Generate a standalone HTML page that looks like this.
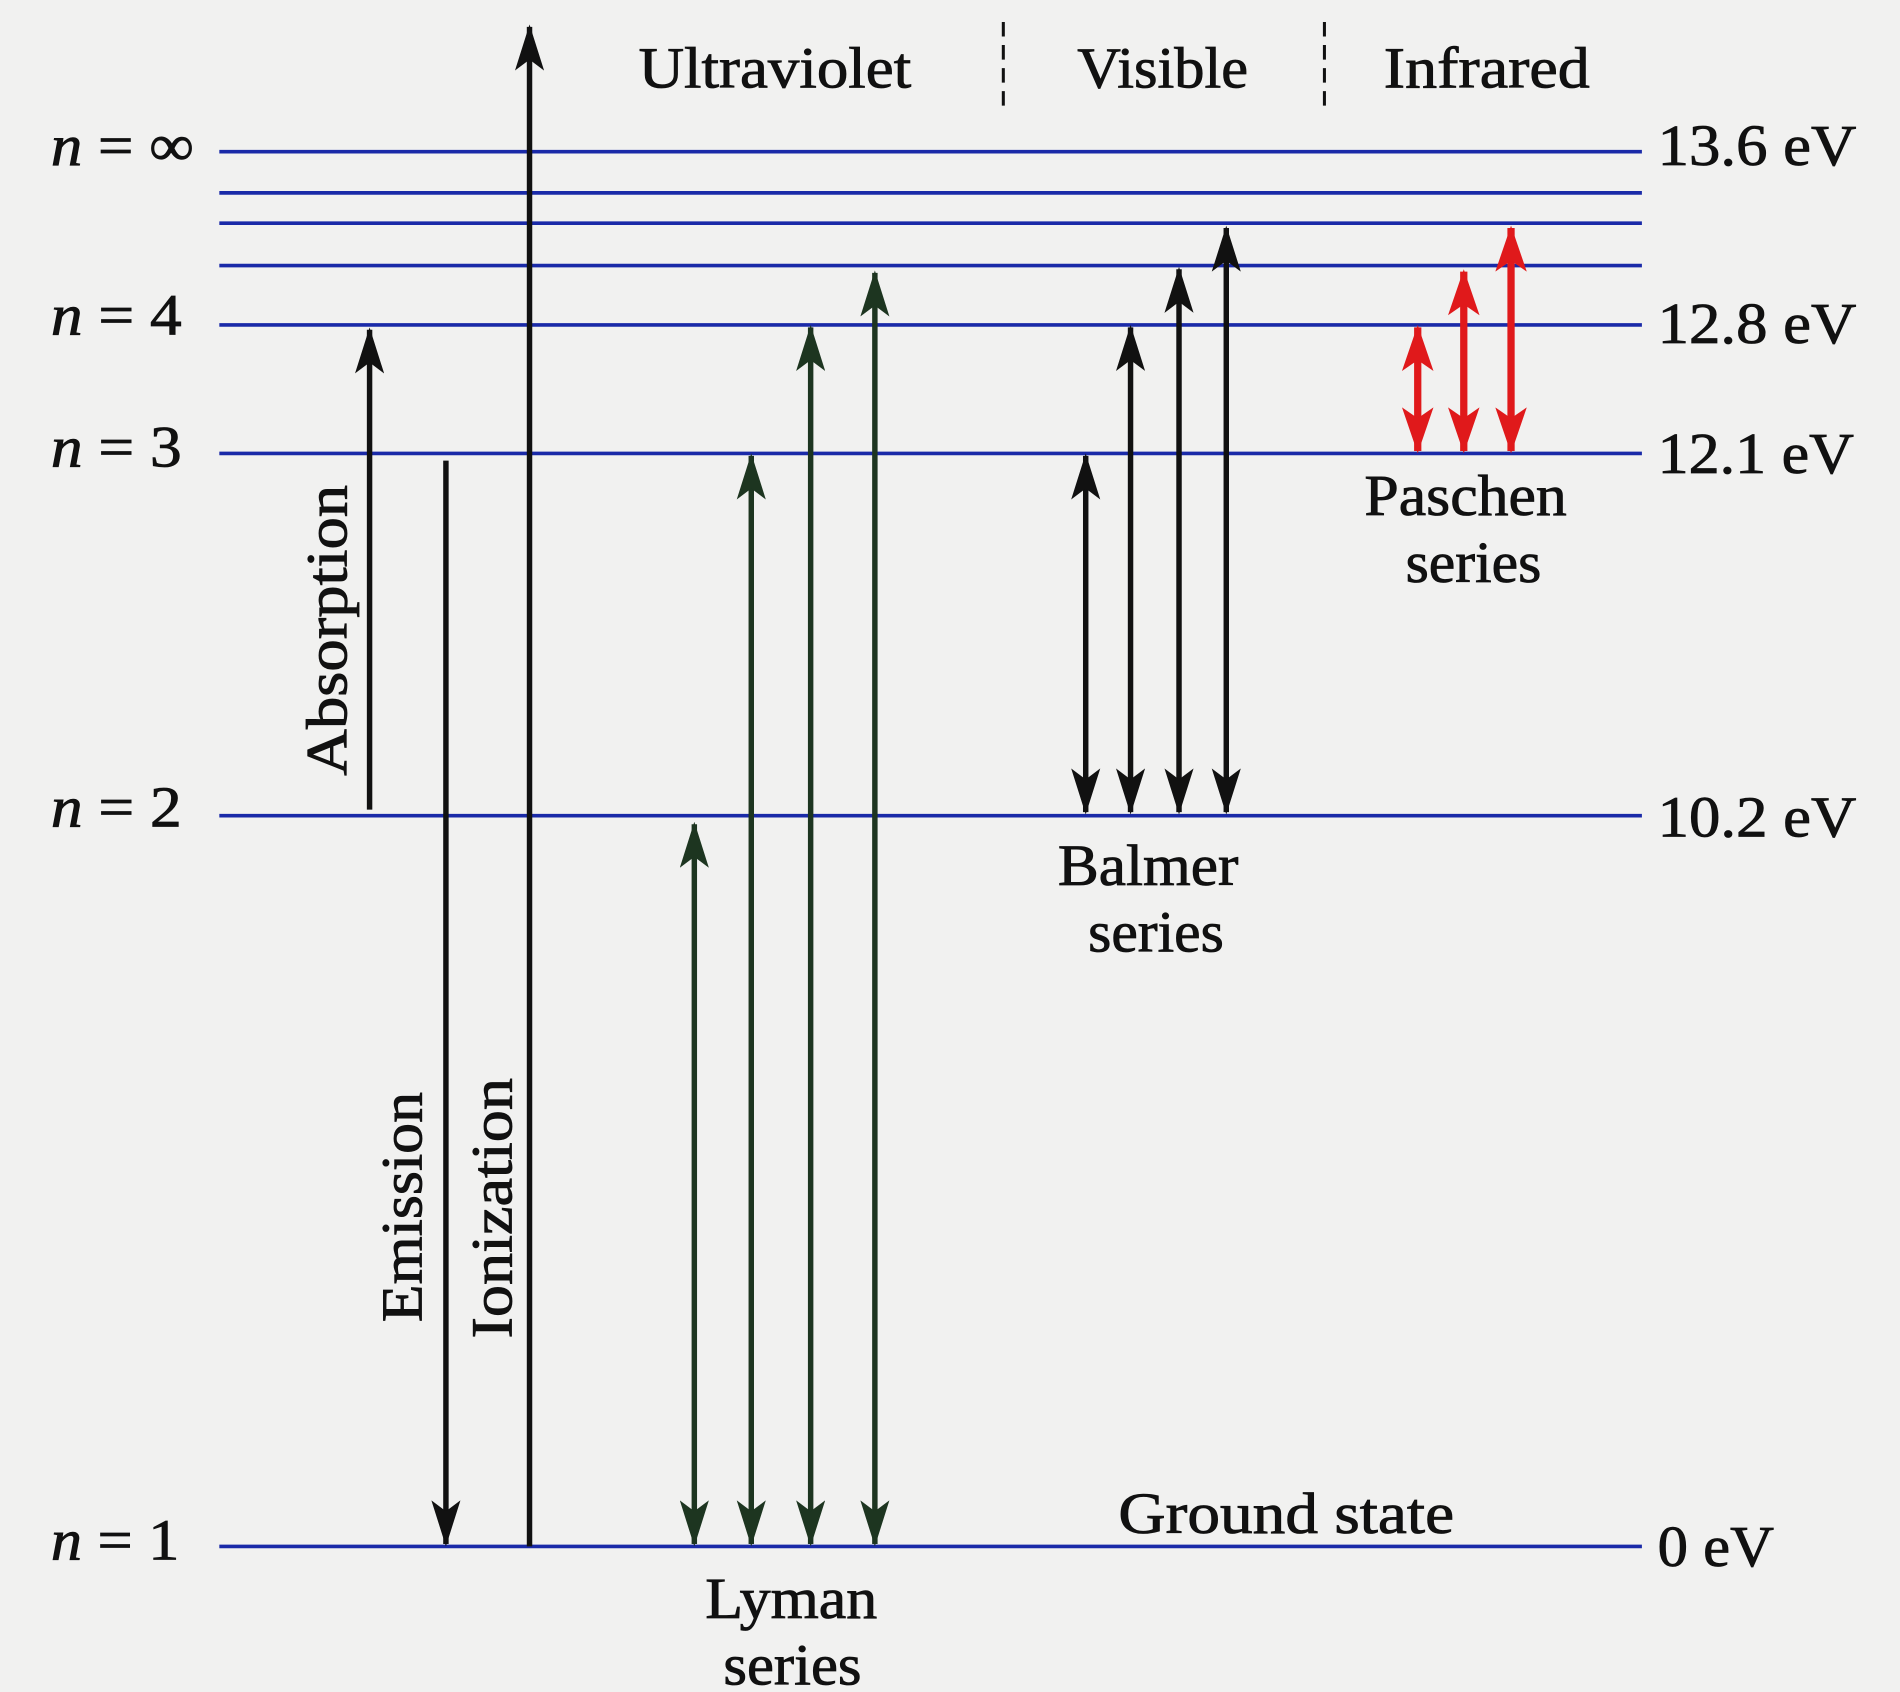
<!DOCTYPE html>
<html><head><meta charset="utf-8"><style>
html,body{margin:0;padding:0;background:#f1f1f0;}
svg{display:block;}
text{font-family:"Liberation Serif",serif;fill:#111;stroke:#111;stroke-width:0.7;}
</style></head><body>
<svg width="1900" height="1692" viewBox="0 0 1568 1396" xmlns="http://www.w3.org/2000/svg">
<defs>
<marker id="mk" viewBox="0 0 38 24" refX="36" refY="12" markerWidth="38" markerHeight="24" markerUnits="userSpaceOnUse" orient="auto-start-reverse"><path d="M0,0 L38,12 L0,24 L9,12 Z" fill="#111"/></marker>
<marker id="mg" viewBox="0 0 38 24" refX="36" refY="12" markerWidth="38" markerHeight="24" markerUnits="userSpaceOnUse" orient="auto-start-reverse"><path d="M0,0 L38,12 L0,24 L9,12 Z" fill="#1d3520"/></marker>
<marker id="mr" viewBox="0 0 38 26" refX="36" refY="13" markerWidth="38" markerHeight="26" markerUnits="userSpaceOnUse" orient="auto-start-reverse"><path d="M0,0 L38,13 L0,26 L9,13 Z" fill="#e0191b"/></marker>
</defs>
<rect width="1568" height="1396" fill="#f1f1f0"/>
<g stroke="#1a2aa8" stroke-width="3">
<line x1="181" y1="125" x2="1355" y2="125"/>
<line x1="181" y1="159" x2="1355" y2="159"/>
<line x1="181" y1="184" x2="1355" y2="184"/>
<line x1="181" y1="219" x2="1355" y2="219"/>
<line x1="181" y1="268" x2="1355" y2="268"/>
<line x1="181" y1="374" x2="1355" y2="374"/>
<line x1="181" y1="673" x2="1355" y2="673"/>
<line x1="181" y1="1276" x2="1355" y2="1276"/>
</g>
<g stroke="#111" stroke-width="4.5" fill="none">
<line x1="305" y1="668" x2="305" y2="272" marker-end="url(#mk)"/>
<line x1="368" y1="380" x2="368" y2="1274" marker-end="url(#mk)"/>
<line x1="437" y1="1276" x2="437" y2="22" marker-end="url(#mk)"/>
<line x1="896" y1="376" x2="896" y2="670" marker-start="url(#mk)" marker-end="url(#mk)"/>
<line x1="933" y1="270" x2="933" y2="670" marker-start="url(#mk)" marker-end="url(#mk)"/>
<line x1="973" y1="222" x2="973" y2="670" marker-start="url(#mk)" marker-end="url(#mk)"/>
<line x1="1012" y1="188" x2="1012" y2="670" marker-start="url(#mk)" marker-end="url(#mk)"/>
</g>
<g stroke="#1d3520" stroke-width="4.5" fill="none">
<line x1="573" y1="680" x2="573" y2="1274" marker-start="url(#mg)" marker-end="url(#mg)"/>
<line x1="620" y1="376" x2="620" y2="1274" marker-start="url(#mg)" marker-end="url(#mg)"/>
<line x1="669" y1="270" x2="669" y2="1274" marker-start="url(#mg)" marker-end="url(#mg)"/>
<line x1="722" y1="225" x2="722" y2="1274" marker-start="url(#mg)" marker-end="url(#mg)"/>
</g>
<g stroke="#e0191b" stroke-width="6" fill="none">
<line x1="1170" y1="270" x2="1170" y2="372" marker-start="url(#mr)" marker-end="url(#mr)"/>
<line x1="1208" y1="224" x2="1208" y2="372" marker-start="url(#mr)" marker-end="url(#mr)"/>
<line x1="1247" y1="188" x2="1247" y2="372" marker-start="url(#mr)" marker-end="url(#mr)"/>
</g>
<g stroke="#111" stroke-width="2.5" stroke-dasharray="12,7">
<line x1="828" y1="18" x2="828" y2="92"/>
<line x1="1093" y1="18" x2="1093" y2="92"/>
</g>
<g font-size="48">
<text x="527" y="72" textLength="225" lengthAdjust="spacingAndGlyphs">Ultraviolet</text>
<text x="889" y="72" textLength="141" lengthAdjust="spacingAndGlyphs">Visible</text>
<text x="1142" y="72" textLength="170" lengthAdjust="spacingAndGlyphs">Infrared</text>
<text x="42" y="136" textLength="118" lengthAdjust="spacingAndGlyphs"><tspan font-style="italic">n</tspan> = ∞</text>
<text x="42" y="276" textLength="108" lengthAdjust="spacingAndGlyphs"><tspan font-style="italic">n</tspan> = 4</text>
<text x="42" y="385" textLength="108" lengthAdjust="spacingAndGlyphs"><tspan font-style="italic">n</tspan> = 3</text>
<text x="42" y="682" textLength="108" lengthAdjust="spacingAndGlyphs"><tspan font-style="italic">n</tspan> = 2</text>
<text x="42" y="1287" textLength="106" lengthAdjust="spacingAndGlyphs"><tspan font-style="italic">n</tspan> = 1</text>
<text x="1368" y="136" textLength="164" lengthAdjust="spacingAndGlyphs">13.6 eV</text>
<text x="1368" y="283" textLength="164" lengthAdjust="spacingAndGlyphs">12.8 eV</text>
<text x="1368" y="390" textLength="162" lengthAdjust="spacingAndGlyphs">12.1 eV</text>
<text x="1368" y="690" textLength="164" lengthAdjust="spacingAndGlyphs">10.2 eV</text>
<text x="1368" y="1292" textLength="96" lengthAdjust="spacingAndGlyphs">0 eV</text>
<text x="1126" y="425" textLength="167" lengthAdjust="spacingAndGlyphs">Paschen</text>
<text x="1160" y="480" textLength="112" lengthAdjust="spacingAndGlyphs">series</text>
<text x="873" y="730" textLength="149" lengthAdjust="spacingAndGlyphs">Balmer</text>
<text x="898" y="785" textLength="112" lengthAdjust="spacingAndGlyphs">series</text>
<text x="582" y="1335" textLength="142" lengthAdjust="spacingAndGlyphs">Lyman</text>
<text x="597" y="1390" textLength="114" lengthAdjust="spacingAndGlyphs">series</text>
<text x="923" y="1265" textLength="277" lengthAdjust="spacingAndGlyphs">Ground state</text>
<text transform="translate(286,520) rotate(-90)" text-anchor="middle" textLength="240" lengthAdjust="spacingAndGlyphs">Absorption</text>
<text transform="translate(348,996) rotate(-90)" text-anchor="middle" textLength="190" lengthAdjust="spacingAndGlyphs">Emission</text>
<text transform="translate(422,997) rotate(-90)" text-anchor="middle" textLength="215" lengthAdjust="spacingAndGlyphs">Ionization</text>
</g>
</svg>
</body></html>
